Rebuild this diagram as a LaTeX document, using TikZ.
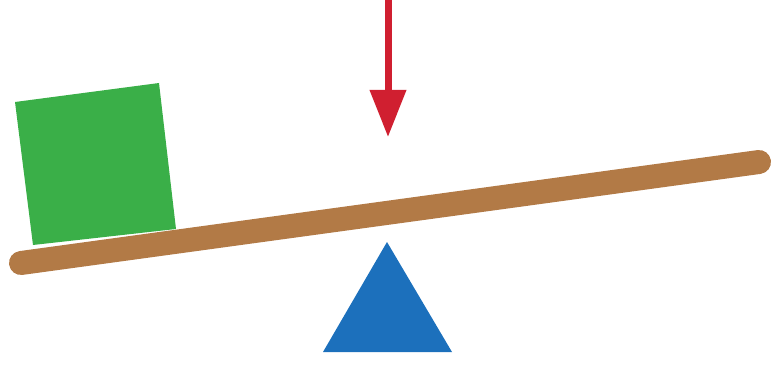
\documentclass[tikz,border=0pt]{standalone}
\usepackage{xcolor}
\usepackage{tikz}
\usetikzlibrary{arrows.meta,calc}
\definecolor{boxgreen}{HTML}{3AAF48}
\definecolor{plankbrown}{HTML}{B27A46}
\definecolor{forcered}{HTML}{D01F30}
\definecolor{pivotblue}{HTML}{1C70BC}
\tikzstyle{load} = [fill=boxgreen, draw=none]
\tikzstyle{plank} = [draw=plankbrown, line width=24pt, line cap=round]
\tikzstyle{force} = [draw=forcered, line width=7pt, -{Triangle[length=47pt,width=35pt]}]
\tikzstyle{pivot} = [fill=pivotblue, draw=none]

\begin{document}
\begin{tikzpicture}[x=1pt, y=-1pt]
    \useasboundingbox (0,0) rectangle (772,369);
    % load on the left end
    \fill[load] (15,102) -- (159,83) -- (176,229) -- (33,245) -- cycle;
    % lever
    \coordinate (pl) at (21,263);
    \coordinate (pr) at (759,162);
    \draw[plank] (pl) -- (pr);
    % fulcrum
    \fill[pivot] (387,242) -- (452,352) -- (323,352) -- cycle;
    % applied force
    \coordinate (ftop) at (388,-2);
    \coordinate (ftip) at (388,137);
    \draw[force] (ftop) -- (ftip);
\end{tikzpicture}
\end{document}
